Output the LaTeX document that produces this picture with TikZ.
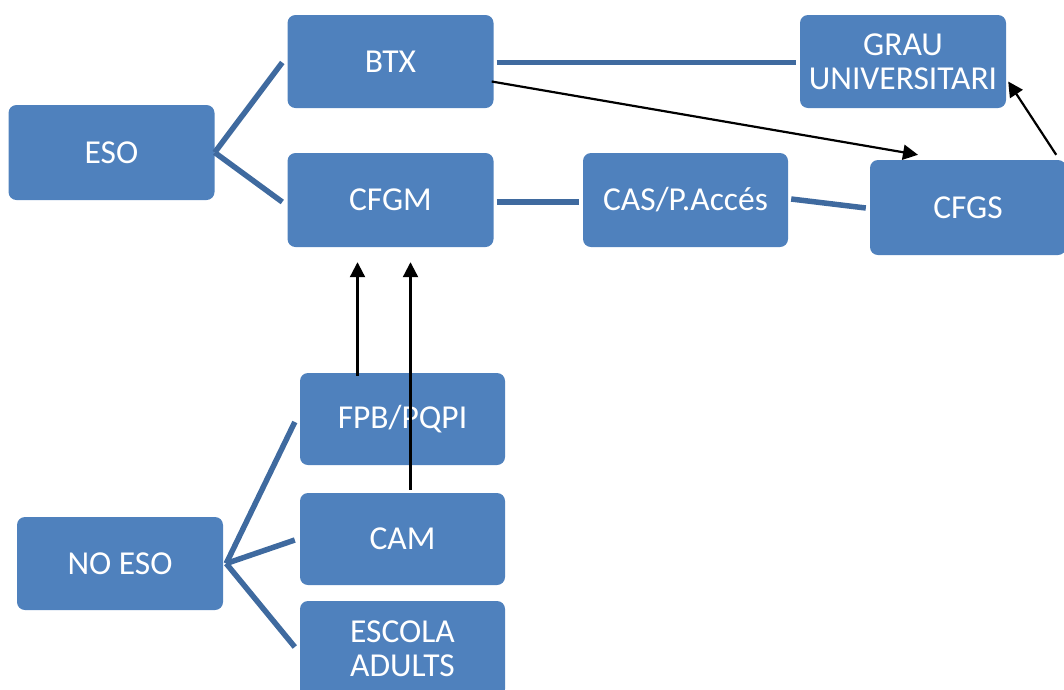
\documentclass[tikz,border=0pt]{standalone}
\usepackage{fontspec}
\setmainfont{Carlito}
\usepackage{xcolor}
\usepackage{tikz}
\usetikzlibrary{arrows.meta,calc}
\definecolor{boxblue}{HTML}{4F81BD}
\definecolor{linkblue}{HTML}{3F6A9F}

\tikzset{
  stagebox/.style={draw=none,fill=boxblue,rounded corners=8pt,text=white,
    minimum width=206pt,minimum height=93pt,align=center,
    font=\fontsize{33.5}{34}\selectfont,inner sep=0pt},
  link/.style={linkblue,line width=5.5pt},
  path arrow/.style={black,line width=2.2pt,-{Triangle[length=15pt,width=15pt]}}
}

\begin{document}
\begin{tikzpicture}[x=1pt,y=-1pt]
    \useasboundingbox (0,0) rectangle (1064,689);

    % Top row: after ESO
    \node[stagebox,minimum height=95pt] (eso) at (111.5,152.5) {ESO};
    \node[stagebox] (btx) at (390.5,61.5) {BTX};
    \node[stagebox,minimum height=94pt] (cfgm) at (390.5,200) {CFGM};
    \node[stagebox,minimum width=205pt,minimum height=94pt] (cas) at (685.5,200) {CAS/P.Accés};
    \node[stagebox] (grau) at (903,61.5) {GRAU\\UNIVERSITARI};
    \node[stagebox,minimum width=196pt,minimum height=95pt] (cfgs) at (968,207.5) {CFGS};

    % Bottom rows: without ESO
    \node[stagebox,minimum width=205pt,minimum height=92pt] (fpb) at (402.5,419) {FPB/PQPI};
    \node[stagebox,minimum width=205pt,minimum height=92pt] (cam) at (402.5,539) {CAM};
    \node[stagebox,minimum width=205pt,minimum height=96pt] (escola) at (402.5,649) {ESCOLA\\ADULTS};
    \node[stagebox] (noeso) at (120,563.5) {NO ESO};

    % plain links
    \draw[link] (eso.east) -- ($(btx.west)+(-5,1)$);
    \draw[link] (eso.east) -- ($(cfgm.west)+(-5,2)$);
    \draw[link] ($(noeso.east)+(3,0)$) -- ($(fpb.west)+(-5,3)$);
    \draw[link] ($(noeso.east)+(3,0)$) -- ($(cam.west)+(-5,1)$);
    \draw[link] ($(noeso.east)+(3,0)$) -- ($(escola.west)+(-5,-2)$);
    \draw[link] ($(btx.east)+(3,1)$) -- ($(grau.west)+(-4,1)$);
    \draw[link] ($(cfgm.east)+(3,2)$) -- ($(cas.west)+(-4,2)$);
    \draw[link] ($(cas.east)+(3,-1)$) -- ($(cfgs.west)+(-4,0.5)$);

    % arrows
    \draw[path arrow] ($(btx.east)+(-2,20)$) -- ($(cfgs.north)+(-50,-5)$);
    \draw[path arrow] ($(cfgs.north east)+(-10,-5)$) -- ($(grau.east)+(2,20)$);
    \draw[path arrow] ($(fpb.north)+(-45,3)$) -- ($(cfgm.south)+(-33,15)$);
    \draw[path arrow] ($(cam.north)+(8,-3)$) -- ($(cfgm.south)+(20,15)$);
\end{tikzpicture}
\end{document}
